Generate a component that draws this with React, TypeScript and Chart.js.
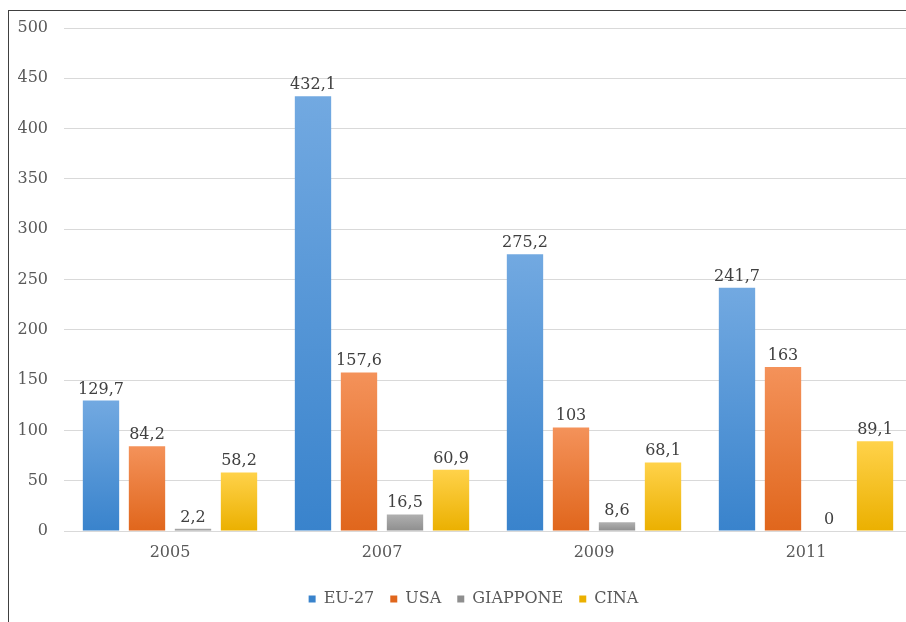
import React, { useEffect, useRef } from "react";
import { Chart, registerables } from "chart.js";

Chart.register(...registerables);

const categories = ["2005", "2007", "2009", "2011"];
const seriesNames = ["EU-27", "USA", "GIAPPONE", "CINA"];
const eu27 = [129.7, 432.1, 275.2, 241.7];
const usa = [84.2, 157.6, 103, 163];
const giappone = [2.2, 16.5, 8.6, 0];
const cina = [58.2, 60.9, 68.1, 89.1];
const yMin = 0;
const yMax = 500;
const yStep = 50;

const FONT = '"DejaVu Serif", serif';
Chart.defaults.font.family = FONT;

const fmt = (v: number) => String(v).replace(".", ",");

function grad(top: string, bottom: string, solid: string) {
  return (ctx: any) => {
    if (ctx.type !== "data") return solid;
    const chart = ctx.chart;
    const y = chart.scales && chart.scales.y;
    if (!y || !chart.chartArea) return solid;
    const v = ctx.raw as number;
    const y0 = y.getPixelForValue(0);
    const y1 = y.getPixelForValue(v);
    if (!isFinite(y1) || Math.abs(y0 - y1) < 1) return solid;
    const g = chart.ctx.createLinearGradient(0, y1, 0, y0);
    g.addColorStop(0, top);
    g.addColorStop(1, bottom);
    return g;
  };
}

const valueLabels = {
  id: "valueLabels",
  afterDatasetsDraw(chart: any) {
    const ctx = chart.ctx;
    ctx.save();
    ctx.font = `16px ${FONT}`;
    ctx.fillStyle = "#404040";
    ctx.textAlign = "center";
    ctx.textBaseline = "alphabetic";
    chart.data.datasets.forEach((ds: any, i: number) => {
      const meta = chart.getDatasetMeta(i);
      meta.data.forEach((bar: any, j: number) => {
        ctx.fillText(fmt(ds.data[j]), bar.x, bar.y - 7);
      });
    });
    ctx.restore();
  },
};

const legendShift = {
  id: "legendShift",
  afterLayout(chart: any) {
    const l = chart.legend;
    if (l) {
      l.left += 13;
      l.right += 13;
    }
  },
};

export default function App() {
  const ref = useRef<HTMLCanvasElement | null>(null);

  useEffect(() => {
    if (!ref.current) return;
    const chart = new Chart(ref.current, {
      type: "bar",
      data: {
        labels: categories,
        datasets: [
          { label: seriesNames[0], data: eu27, backgroundColor: grad("#72a9e1", "#3983cc", "#5b9bd5") },
          { label: seriesNames[1], data: usa, backgroundColor: grad("#f4925a", "#e0661c", "#ed7d31") },
          { label: seriesNames[2], data: giappone, backgroundColor: grad("#b0b0b0", "#8e8e8e", "#a5a5a5") },
          { label: seriesNames[3], data: cina, backgroundColor: grad("#ffd24a", "#ebb000", "#ffc000") },
        ],
      },
      options: {
        animation: false,
        responsive: true,
        maintainAspectRatio: false,
        layout: { padding: { top: 17, right: 37, bottom: 5, left: 0 } },
        datasets: { bar: { categoryPercentage: 0.868, barPercentage: 0.79 } },
        scales: {
          x: {
            grid: { display: false },
            border: { display: true, color: "#d9d9d9" },
            ticks: { color: "#595959", font: { family: FONT, size: 16 }, padding: 4 },
            afterFit: (s: any) => {
              s.height = 44;
            },
          },
          y: {
            min: yMin,
            max: yMax,
            grid: { color: "#d9d9d9", drawTicks: true, tickLength: 16, tickColor: "rgba(0,0,0,0)" },
            border: { display: false },
            ticks: { stepSize: yStep, color: "#595959", font: { family: FONT, size: 16 }, padding: 0 },
            afterFit: (s: any) => {
              s.width = 55;
            },
          },
        },
        plugins: {
          legend: {
            position: "bottom",
            labels: {
              color: "#595959",
              font: { family: FONT, size: 16 },
              boxWidth: 7,
              boxHeight: 7,
              padding: 16,
            },
          },
          tooltip: { enabled: false },
        },
      },
      plugins: [valueLabels, legendShift],
    });
    return () => chart.destroy();
  }, []);

  return (
    <div
      style={{
        position: "fixed",
        left: 8,
        top: 10,
        width: 898,
        height: 612,
        overflow: "hidden",
        borderLeft: "1px solid #404040",
        borderTop: "1px solid #404040",
        background: "#fff",
      }}
    >
      <div style={{ position: "relative", width: 940, height: 611 }}>
        <canvas ref={ref} />
      </div>
    </div>
  );
}
